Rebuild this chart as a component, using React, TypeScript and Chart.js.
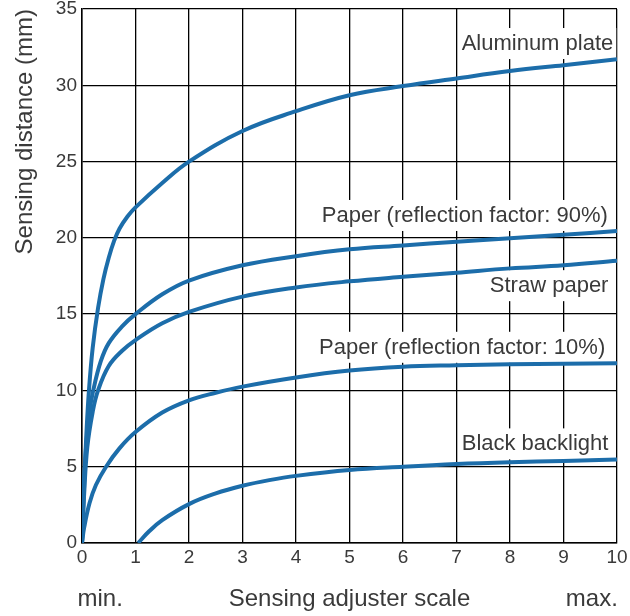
import { useEffect, useRef } from "react";
import { Chart, registerables } from "chart.js";

Chart.register(...registerables);

// ---- data ----
const seriesNames = [
  "Aluminum plate",
  "Paper (reflection factor: 90%)",
  "Straw paper",
  "Paper (reflection factor: 10%)",
  "Black backlight",
];

const aluminumX = [0, 0.04, 0.08, 0.13, 0.2, 0.3, 0.4, 0.5, 0.6, 0.7, 0.85, 1, 1.5, 2, 3, 4, 5, 6, 7, 8, 9, 10];
const aluminumY = [0, 3.8, 7, 10, 12.8, 15.4, 17.3, 18.7, 19.8, 20.6, 21.4, 22, 23.6, 25, 27, 28.3, 29.35, 29.95, 30.45, 30.93, 31.32, 31.7];

const paper90X = [0, 0.03, 0.08, 0.14, 0.21, 0.35, 0.5, 0.75, 1, 1.5, 2, 3, 4, 5, 6, 7, 8, 9, 10];
const paper90Y = [0, 3.5, 6.5, 8.6, 10, 11.9, 13.1, 14.2, 15, 16.3, 17.2, 18.2, 18.8, 19.25, 19.5, 19.75, 19.97, 20.2, 20.45];

const strawX = [0, 0.04, 0.1, 0.2, 0.3, 0.5, 0.75, 1, 1.5, 2, 3, 4, 5, 6, 7, 8, 9, 10];
const strawY = [0, 3.2, 6.3, 8.6, 10, 11.6, 12.6, 13.3, 14.4, 15.15, 16.15, 16.75, 17.15, 17.45, 17.72, 18.0, 18.2, 18.5];

const paper10X = [0, 0.04, 0.14, 0.26, 0.45, 0.7, 1, 1.5, 2, 2.5, 3, 4, 5, 6, 7, 8, 9, 10];
const paper10Y = [0, 1.0, 2.6, 3.8, 5.0, 6.2, 7.27, 8.55, 9.35, 9.85, 10.25, 10.85, 11.3, 11.55, 11.65, 11.72, 11.75, 11.78];

const blackX = [1.05, 1.25, 1.5, 2, 2.5, 3, 3.5, 4, 5, 6, 7, 8, 9, 10];
const blackY = [0, 0.75, 1.5, 2.55, 3.25, 3.75, 4.12, 4.4, 4.78, 5.0, 5.18, 5.3, 5.38, 5.48];

// label anchors (right edge x, centre y) in data units
const labelAnchorX = [9.93, 9.83, 9.84, 9.78, 9.84];
const labelAnchorY = [32.77, 21.5, 16.9, 12.86, 6.53];

const xAxisTitle = "Sensing adjuster scale";
const yAxisTitle = "Sensing distance (mm)";
const xMinText = "min.";
const xMaxText = "max.";
const xMinTextAt = 0.34;
const xMaxTextAt = 9.53;

const FONT = "'Liberation Sans', Arial, Helvetica, sans-serif";
const TEXT = "#3a3a3a";
const LINE = "#1c6daa";

function toPoints(xs: number[], ys: number[]) {
  return xs.map((x, i) => ({ x, y: ys[i] }));
}

const seriesX = [aluminumX, paper90X, strawX, paper10X, blackX];
const seriesY = [aluminumY, paper90Y, strawY, paper10Y, blackY];

const labelPlugin = {
  id: "curveLabels",
  beforeDatasetsDraw(chart: any) {
    const { ctx, scales } = chart;
    const xs = scales.x;
    const ys = scales.y;
    ctx.save();
    ctx.font = `22px ${FONT}`;
    ctx.textAlign = "right";
    ctx.textBaseline = "middle";
    seriesNames.forEach((name, i) => {
      const px = xs.getPixelForValue(labelAnchorX[i]);
      const py = ys.getPixelForValue(labelAnchorY[i]);
      const w = ctx.measureText(name).width;
      ctx.fillStyle = "#ffffff";
      ctx.fillRect(px - w - 3, py - 15, w + 6, 31);
      ctx.fillStyle = TEXT;
      ctx.fillText(name, px, py + 1);
    });
    ctx.restore();
  },
  afterDraw(chart: any) {
    const { ctx, scales } = chart;
    const xs = scales.x;
    ctx.save();
    ctx.font = `24px ${FONT}`;
    ctx.fillStyle = TEXT;
    ctx.textAlign = "center";
    ctx.textBaseline = "middle";
    const y = xs.bottom - 14.4 - 2;
    ctx.fillText(xMinText, xs.getPixelForValue(xMinTextAt), y);
    ctx.fillText(xMaxText, xs.getPixelForValue(xMaxTextAt), y);
    ctx.restore();
  },
};

export default function App() {
  const ref = useRef<HTMLCanvasElement | null>(null);

  useEffect(() => {
    if (!ref.current) return;
    const chart = new Chart(ref.current, {
      type: "line",
      data: {
        datasets: seriesNames.map((name, i) => ({
          label: name,
          data: toPoints(seriesX[i], seriesY[i]),
          borderColor: LINE,
          backgroundColor: LINE,
          borderWidth: 4,
          pointRadius: 0,
          fill: false,
          tension: 0.4,
        })),
      },
      options: {
        animation: false,
        responsive: true,
        maintainAspectRatio: false,
        layout: { padding: { top: 9, right: 13, left: 0, bottom: 0 } },
        plugins: {
          legend: { display: false },
          tooltip: { enabled: false },
        },
        scales: {
          x: {
            type: "linear",
            min: 0,
            max: 10,
            ticks: {
              stepSize: 1,
              color: TEXT,
              font: { size: 19, family: FONT },
              padding: 3,
              maxRotation: 0,
              autoSkip: false,
            },
            grid: { color: "#000000", lineWidth: 1.3, drawTicks: false },
            border: { color: "#000000", width: 1.5 },
            title: {
              display: true,
              text: xAxisTitle,
              color: TEXT,
              font: { size: 24, family: FONT },
              padding: { top: 0, bottom: 2 },
            },
            afterFit(s: any) {
              s.height = 73;
              s.paddingLeft = 0;
              s.paddingRight = 0;
            },
          },
          y: {
            type: "linear",
            min: 0,
            max: 35,
            ticks: {
              stepSize: 5,
              color: TEXT,
              font: { size: 19, family: FONT },
              padding: 5,
            },
            grid: { color: "#000000", lineWidth: 1.3, drawTicks: false },
            border: { color: "#000000", width: 1.5 },
            title: {
              display: true,
              text: yAxisTitle,
              align: "end",
              color: TEXT,
              font: { size: 24, family: FONT },
              padding: { top: 10.6, bottom: 0 },
            },
            afterFit(s: any) {
              s.width = 82;
              s.paddingTop = 0;
              s.paddingBottom = 0;
            },
          },
        },
      },
      plugins: [labelPlugin],
    });
    return () => chart.destroy();
  }, []);

  return (
    <div style={{ position: "absolute", left: 0, top: 0, width: 630, height: 616, background: "#ffffff" }}>
      <canvas ref={ref} />
    </div>
  );
}
